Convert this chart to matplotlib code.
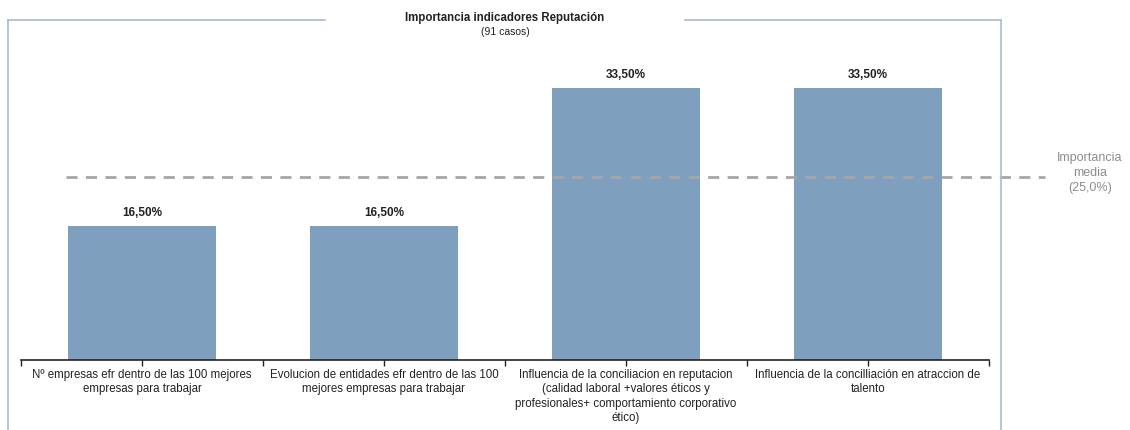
import numpy as np
import matplotlib.pyplot as plt
from matplotlib.lines import Line2D

categorias = [
    "Nº empresas efr dentro de las 100 mejores\nempresas para trabajar",
    "Evolucion de entidades efr dentro de las 100\nmejores empresas para trabajar",
    "Influencia de la conciliacion en reputacion\n(calidad laboral +valores éticos y\nprofesionales+ comportamiento corporativo\nético)",
    "Influencia de la concilliación en atraccion de\ntalento",
]
valores = [16.5, 16.5, 33.5, 33.5]
etiquetas = ["16,50%", "16,50%", "33,50%", "33,50%"]
linea_media = 22.5  # position
texto_media = "Importancia\nmedia\n(25,0%)"

plt.rcParams['font.family'] = ['Liberation Sans', 'DejaVu Sans']

W, H = 1130, 431
fig = plt.figure(figsize=(W / 100, H / 100), dpi=100)

bar_color = '#7f9fbe'
frame_color = '#a3bcd6'

# frame around chart
fig.add_artist(Line2D([8 / W, 325 / W], [1 - 21 / H] * 2, color=frame_color, lw=1.2))
fig.add_artist(Line2D([685 / W, 1001 / W], [1 - 21 / H] * 2, color=frame_color, lw=1.2))
fig.add_artist(Line2D([8 / W] * 2, [0, 1 - 21 / H], color=frame_color, lw=1.2))
fig.add_artist(Line2D([1001 / W] * 2, [0, 1 - 21 / H], color=frame_color, lw=1.2))

fig.text(505 / W, 1 - 18 / H, "Importancia indicadores Reputación", ha='center', va='center',
         fontsize=8.3, fontweight='bold', color='#222222')
fig.text(505 / W, 1 - 32 / H, "(91 casos)", ha='center', va='center', fontsize=7.5, color='#222222')

ax = fig.add_axes([21 / W, 70 / H, (989 - 21) / W, 325 / H])
x = np.arange(len(valores))
ax.bar(x, valores, width=0.61, color=bar_color)
ax.set_xlim(-0.5, len(valores) - 0.5)
ax.set_ylim(0, 40)

for xi, v, t in zip(x, valores, etiquetas):
    ax.text(xi, v + 1.0, t, ha='center', va='bottom', fontsize=8.5, fontweight='bold', color='#222222')

for xi, c in zip(x, categorias):
    ax.text(xi, -1.0, c, ha='center', va='top', fontsize=8.3, color='#222222', linespacing=1.25)

x0 = (66 - 21) / (989 - 21) * 4 - 0.5
x1 = (1045 - 21) / (989 - 21) * 4 - 0.5
ax.plot([x0, x1], [linea_media, linea_media], color='#a6a6a6', lw=2, dashes=(4, 3), clip_on=False)
fig.text(1090 / W, 1 - 173 / H, texto_media, ha='center', va='center', fontsize=9,
         color='#8c8c8c', linespacing=1.3)

for s in ['top', 'right', 'left']:
    ax.spines[s].set_visible(False)
ax.spines['bottom'].set_color('#222222')
ax.spines['bottom'].set_linewidth(1.2)
ax.set_xticks(np.arange(-0.5, len(valores), 0.5))
ax.set_xticklabels([])
ax.tick_params(axis='x', length=4, width=1, color='#222222')
ax.set_yticks([])

fig.savefig('out.png', dpi=100)
